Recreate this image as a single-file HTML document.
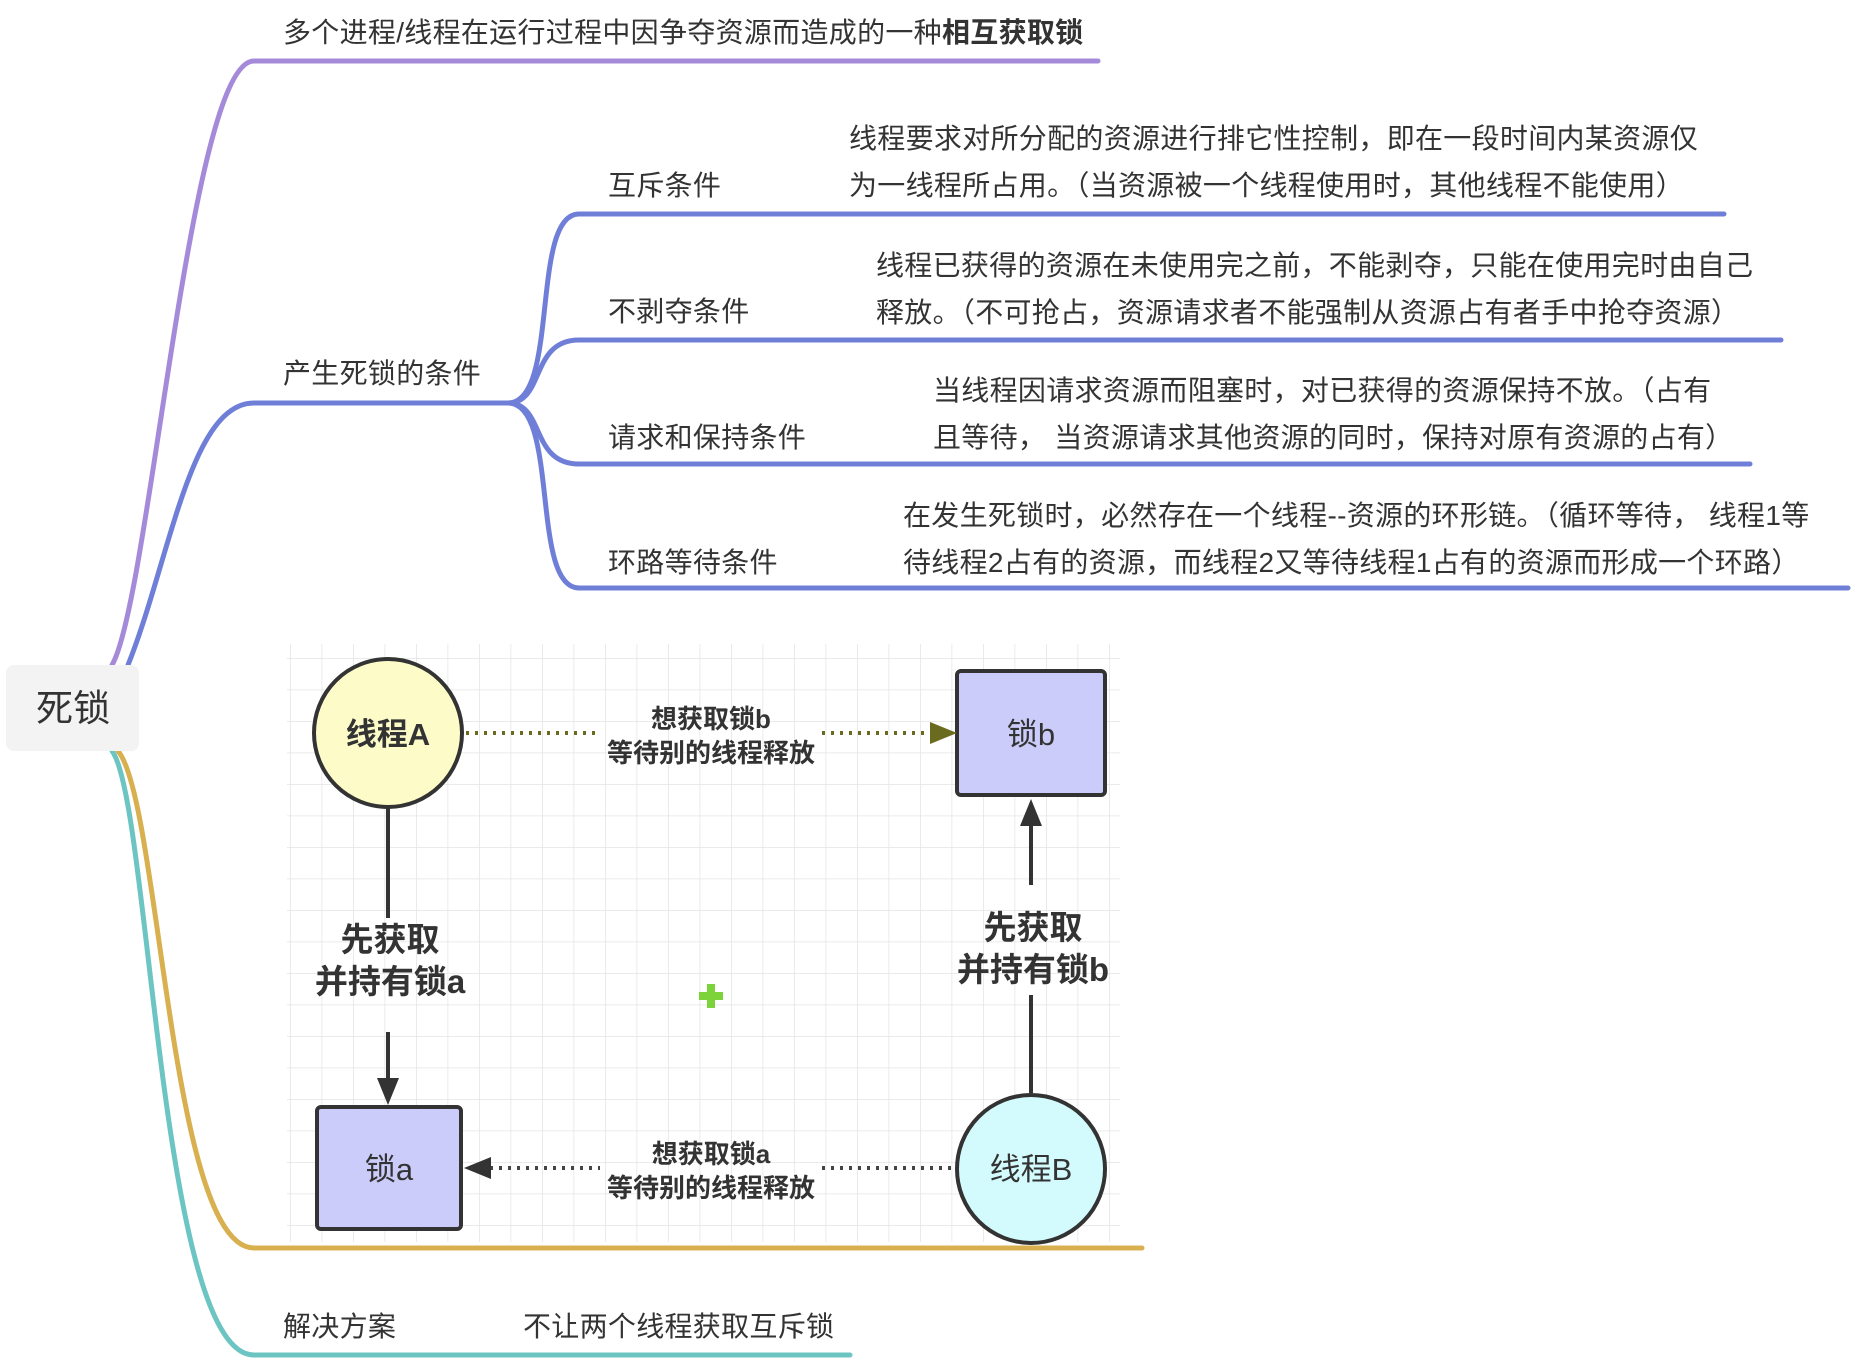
<!DOCTYPE html>
<html><head><meta charset="utf-8"><style>
html,body{margin:0;padding:0;background:#fff;}
body{width:1852px;height:1360px;position:relative;overflow:hidden;font-family:"Liberation Sans","Noto Sans CJK SC",sans-serif;color:#333;}
.t{position:absolute;font-size:28px;white-space:nowrap;line-height:1;letter-spacing:0.3px;}
</style></head><body>
<svg width="1852" height="1360" style="position:absolute;left:0;top:0">
<defs>
<pattern id="g" width="31.5" height="31.5" patternUnits="userSpaceOnUse" x="290" y="658">
<path d="M0 0H31.5M0 0V31.5" stroke="#e4e4e4" stroke-width="1.5" fill="none"/>
</pattern>
</defs>
<rect x="287" y="644" width="833" height="598" fill="url(#g)"/>
<g fill="none" stroke-width="5" stroke-linecap="round">
<path d="M112 665 C 150 600, 190 61, 254 61 H1098" stroke="#a58ad9"/>
<path d="M128 665 C 170 560, 190 403, 254 403 H508" stroke="#6f7fd8"/>
<path d="M508 403 C 560 403, 530 214, 579 214 H1724" stroke="#6f7fd8"/>
<path d="M508 403 C 545 403, 530 340, 579 340 H1781" stroke="#6f7fd8"/>
<path d="M508 403 C 545 403, 530 464, 579 464 H1750" stroke="#6f7fd8"/>
<path d="M508 403 C 560 403, 530 588, 579 588 H1848" stroke="#6f7fd8"/>
<path d="M118 751 C 160 800, 170 1248, 254 1248 H1142" stroke="#d9b050"/>
<path d="M112 751 C 150 800, 160 1355, 254 1355 H850" stroke="#6cc5c2"/>
</g>
<rect x="6" y="665" width="133" height="86" rx="8" fill="#f3f3f3"/>
<g stroke="#333" stroke-width="4">
<circle cx="388" cy="733" r="74" fill="#fdfcc9"/>
<rect x="957" y="671" width="148" height="124" rx="4" fill="#ccccfb"/>
<rect x="317" y="1107" width="144" height="122" rx="4" fill="#ccccfb"/>
<circle cx="1031" cy="1169" r="74" fill="#d3fbfd"/>
</g>
<g stroke-width="4" fill="none">
<path d="M466 733 H600 M822 733 H930" stroke="#6b6b20" stroke-dasharray="3 6"/>
<path d="M490 1168 H600 M822 1168 H955" stroke="#444" stroke-dasharray="3 6"/>
<path d="M388 808 V918 M388 1032 V1080" stroke="#333"/>
<path d="M1031 1093 V995 M1031 885 V825" stroke="#333"/>
</g>
<polygon points="930,722 957,733 930,744" fill="#6b6b20"/>
<polygon points="491,1157 464,1168 491,1179" fill="#333"/>
<polygon points="377,1078 388,1105 399,1078" fill="#333"/>
<polygon points="1020,826 1031,799 1042,826" fill="#333"/>
<g fill="#7cd33a"><rect x="699" y="992" width="24" height="8"/><rect x="707" y="984" width="8" height="24"/></g>
<g font-family="Liberation Sans,Noto Sans CJK SC,sans-serif" fill="#333" text-anchor="middle">
<text x="388" y="745" font-size="31" font-weight="bold">线程A</text>
<text x="1031" y="745" font-size="31">锁b</text>
<text x="389" y="1180" font-size="31">锁a</text>
<text x="1031" y="1180" font-size="31">线程B</text>
<text x="711" y="728" font-size="26" font-weight="bold">想获取锁b</text>
<text x="711" y="762" font-size="26" font-weight="bold">等待别的线程释放</text>
<text x="711" y="1163" font-size="26" font-weight="bold">想获取锁a</text>
<text x="711" y="1197" font-size="26" font-weight="bold">等待别的线程释放</text>
<text x="390" y="951" font-size="33" font-weight="bold">先获取</text>
<text x="390" y="993" font-size="33" font-weight="bold">并持有锁a</text>
<text x="1033" y="939" font-size="33" font-weight="bold">先获取</text>
<text x="1033" y="981" font-size="33" font-weight="bold">并持有锁b</text>
</g>
</svg>
<div class="t" style="left:36px;top:690px;font-size:37px">死锁</div>
<div class="t" style="left:283px;top:19px">多个进程/线程在运行过程中因争夺资源而造成的一种<b>相互获取锁</b></div>
<div class="t" style="left:283px;top:360px">产生死锁的条件</div>
<div class="t" style="left:608px;top:172px">互斥条件</div>
<div class="t" style="left:608px;top:298px">不剥夺条件</div>
<div class="t" style="left:608px;top:424px">请求和保持条件</div>
<div class="t" style="left:608px;top:549px">环路等待条件</div>
<div class="t" style="left:849px;top:125px">线程要求对所分配的资源进行排它性控制，即在一段时间内某资源仅</div>
<div class="t" style="left:849px;top:172px">为一线程所占用。（当资源被一个线程使用时，其他线程不能使用）</div>
<div class="t" style="left:876px;top:252px">线程已获得的资源在未使用完之前，不能剥夺，只能在使用完时由自己</div>
<div class="t" style="left:876px;top:299px">释放。（不可抢占，资源请求者不能强制从资源占有者手中抢夺资源）</div>
<div class="t" style="left:933px;top:377px">当线程因请求资源而阻塞时，对已获得的资源保持不放。（占有</div>
<div class="t" style="left:933px;top:424px">且等待， 当资源请求其他资源的同时，保持对原有资源的占有）</div>
<div class="t" style="left:903px;top:502px">在发生死锁时，必然存在一个线程--资源的环形链。（循环等待， 线程1等</div>
<div class="t" style="left:903px;top:549px">待线程2占有的资源，而线程2又等待线程1占有的资源而形成一个环路）</div>
<div class="t" style="left:283px;top:1313px">解决方案</div>
<div class="t" style="left:523px;top:1313px">不让两个线程获取互斥锁</div>
</body></html>
